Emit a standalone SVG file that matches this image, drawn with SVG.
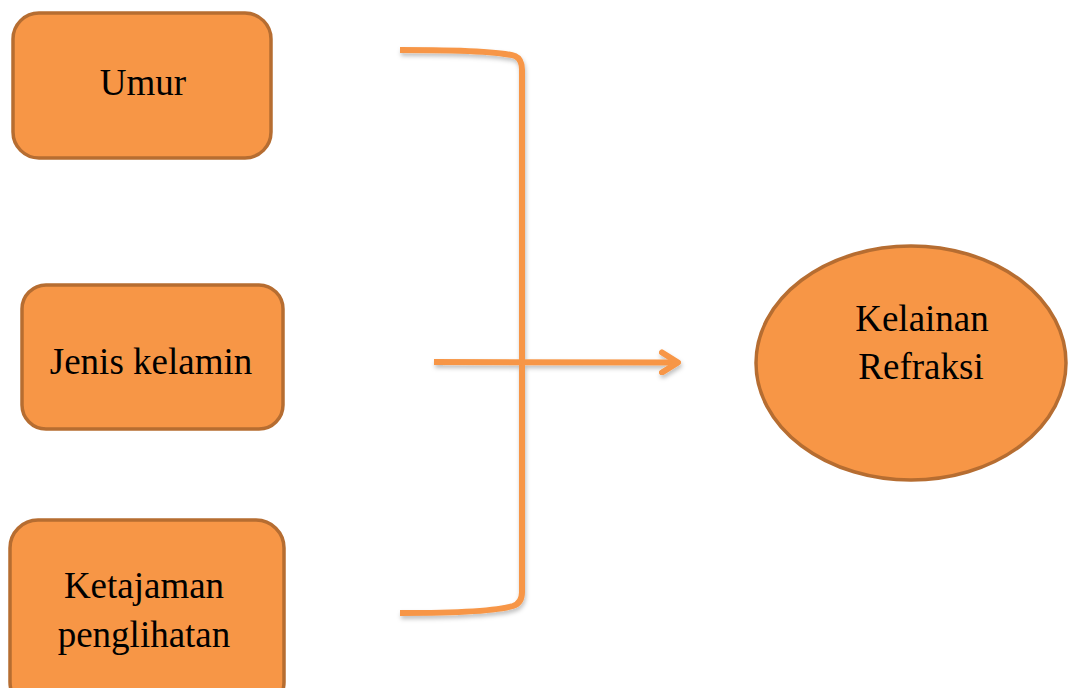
<svg xmlns="http://www.w3.org/2000/svg" width="1072" height="688" viewBox="0 0 1072 688">
<style>
.box{fill:#f79646;stroke:#b66d31;stroke-width:3.5}
.lbl{font-family:"Liberation Serif","Times New Roman",serif;font-size:37px;fill:#000;text-anchor:middle}
.con{fill:none;stroke:#f79646;stroke-width:6;stroke-linecap:butt;stroke-linejoin:round}
</style>
<defs>
<filter id="sh" x="-10%" y="-10%" width="120%" height="130%">
<feDropShadow dx="1" dy="3" stdDeviation="2" flood-color="#000" flood-opacity="0.25"/>
</filter>
<marker id="arr" viewBox="0 0 22 26" refX="19" refY="13" markerWidth="22" markerHeight="26" markerUnits="userSpaceOnUse" orient="auto">
<path d="M3,3 L19,13 L3,23" fill="none" stroke="#f79646" stroke-width="6" stroke-linecap="round" stroke-linejoin="round"/>
</marker>
</defs>
<rect width="1072" height="688" fill="#fff"/>
<g id="connectors" filter="url(#sh)">
<path class="con" d="M400,50 C470,50 505,53 515,56 Q522,59 522,70 L522,592 Q522,603 513,606 C500,610 470,613 400,613"/>
<path class="con" d="M434,362 L678,362.5" marker-end="url(#arr)"/>
</g>
<g id="umur">
<rect class="box" x="13" y="13" width="258" height="145" rx="26"/>
<text class="lbl" x="143" y="95">Umur</text>
</g>
<g id="jenis-kelamin">
<rect class="box" x="22" y="285" width="261" height="144" rx="24"/>
<text class="lbl" x="151" y="374">Jenis kelamin</text>
</g>
<g id="ketajaman">
<rect class="box" x="10" y="520" width="274" height="190" rx="28"/>
<text class="lbl" x="144" y="598">Ketajaman</text>
<text class="lbl" x="144" y="647">penglihatan</text>
</g>
<g id="kelainan-refraksi">
<ellipse class="box" cx="911" cy="363" rx="155" ry="117"/>
<text class="lbl" x="922" y="331">Kelainan</text>
<text class="lbl" x="921" y="379">Refraksi</text>
</g>
</svg>
